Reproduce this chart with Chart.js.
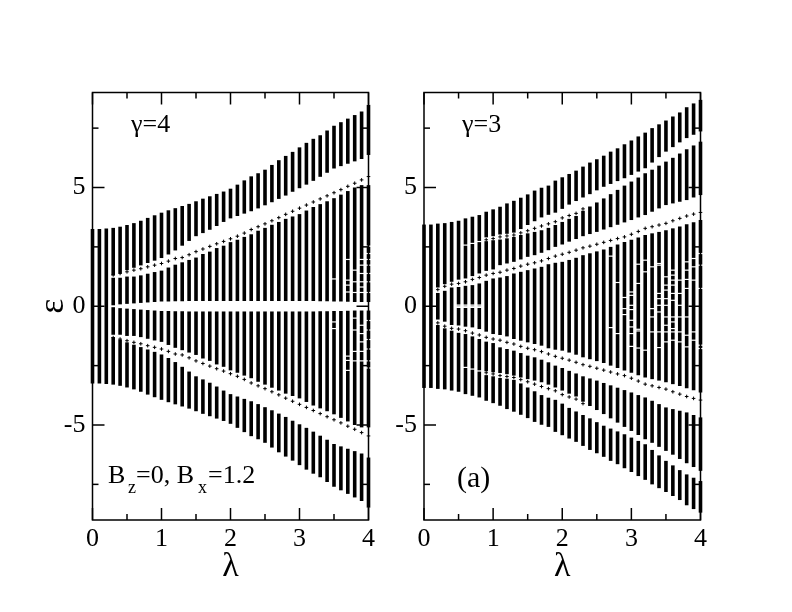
<!DOCTYPE html>
<html><head><meta charset="utf-8">
<style>html,body{margin:0;padding:0;background:#fff;width:792px;height:612px;overflow:hidden}
canvas{position:absolute;left:0;top:0}</style>
<script src="https://cdn.jsdelivr.net/npm/chart.js@4"></script>
</head><body>
<canvas id="c1" width="792" height="612"></canvas>
<canvas id="c2" width="792" height="612"></canvas>
<script>
const lambdas=[0,.1,.2,.3,.4,.5,.6,.7,.8,.9,1,1.1,1.2,1.3,1.4,1.5,1.6,1.7,1.8,1.9,2,2.1,2.2,2.3,2.4,2.5,2.6,2.7,2.8,2.9,3,3.1,3.2,3.3,3.4,3.5,3.6,3.7,3.8,3.9,4];
const _=null;
const xMajor=[0,1,2,3,4], xMinor=[.5,1.5,2.5,3.5], yMajor=[-5,0,5], yMinor=[-7.5,-2.5,2.5,7.5];

// Left panel (gamma = 4)
const A_top_hi=[3.25,3.25,3.27,3.3,3.35,3.42,3.5,3.6,3.72,3.83,3.94,4.04,4.13,4.22,4.31,4.42,4.53,4.63,4.73,4.83,4.95,5.12,5.3,5.47,5.6,5.75,5.95,6.15,6.33,6.5,6.69,6.88,7.05,7.2,7.4,7.6,7.75,7.9,8.05,8.2,8.48];
const A_top_lo=[-3.25,-3.25,-3.27,1.3,1.4,1.52,1.62,1.72,1.82,1.92,2.03,2.18,2.35,2.55,2.75,2.95,3.08,3.22,3.38,3.55,3.7,3.8,3.9,4,4.12,4.25,4.38,4.52,4.66,4.82,4.97,5.12,5.28,5.45,5.62,5.8,5.9,6,6.1,6.2,6.37];
const A_mid_hi=[_,_,_,1.2,1.2,1.25,1.25,1.3,1.37,1.44,1.5,1.63,1.75,1.85,1.95,2.05,2.2,2.3,2.45,2.55,2.7,2.8,2.92,3.03,3.18,3.3,3.43,3.55,3.68,3.78,3.88,4.03,4.18,4.3,4.42,4.55,4.7,4.85,5,5.1,5.1];
const A_mid_lo=[_,_,_,.04,.08,.1,.12,.14,.16,.18,.2,.2,.21,.21,.22,.22,.22,.22,.22,.22,.22,.22,.22,.22,.22,.22,.22,.22,.22,.22,.22,.22,.22,.21,.21,.2,.2,.19,.18,.18,.18];
const A_nmid_hi=[_,_,_,-.04,-.08,-.1,-.12,-.14,-.16,-.18,-.2,-.2,-.21,-.21,-.22,-.22,-.22,-.22,-.22,-.22,-.22,-.22,-.22,-.22,-.22,-.22,-.22,-.22,-.22,-.22,-.22,-.22,-.22,-.21,-.21,-.2,-.2,-.19,-.18,-.18,-.18];
const A_nmid_lo=[_,_,_,-1.2,-1.2,-1.25,-1.25,-1.3,-1.37,-1.44,-1.5,-1.63,-1.75,-1.85,-1.95,-2.05,-2.2,-2.3,-2.45,-2.55,-2.7,-2.8,-2.92,-3.03,-3.18,-3.3,-3.43,-3.55,-3.68,-3.78,-3.88,-4.03,-4.18,-4.3,-4.42,-4.55,-4.7,-4.85,-5,-5.1,-5.1];
const A_bot_hi=[_,_,_,-1.3,-1.4,-1.52,-1.62,-1.72,-1.82,-1.92,-2.03,-2.18,-2.35,-2.55,-2.75,-2.95,-3.08,-3.22,-3.38,-3.55,-3.7,-3.8,-3.9,-4,-4.12,-4.25,-4.38,-4.52,-4.66,-4.82,-4.97,-5.12,-5.28,-5.45,-5.62,-5.8,-5.9,-6,-6.1,-6.2,-6.37];
const A_bot_lo=[_,_,_,-3.3,-3.35,-3.42,-3.5,-3.6,-3.72,-3.83,-3.94,-4.04,-4.13,-4.22,-4.31,-4.42,-4.53,-4.63,-4.73,-4.83,-4.95,-5.12,-5.3,-5.47,-5.6,-5.75,-5.95,-6.15,-6.33,-6.5,-6.69,-6.88,-7.05,-7.2,-7.4,-7.6,-7.75,-7.9,-8.05,-8.2,-8.48];
const A_cross_pos=[_,_,_,1.32,1.38,1.45,1.52,1.58,1.66,1.73,1.8,1.9,2.01,2.05,2.17,2.3,2.41,2.52,2.63,2.73,2.84,2.95,3.08,3.23,3.35,3.47,3.6,3.73,3.87,4,4.13,4.26,4.39,4.52,4.65,4.78,4.91,5.05,5.18,5.32,5.46];
const A_cross_neg=[_,_,_,-1.32,-1.38,-1.45,-1.52,-1.58,-1.66,-1.73,-1.8,-1.9,-2.01,-2.05,-2.17,-2.3,-2.41,-2.52,-2.63,-2.73,-2.84,-2.95,-3.08,-3.23,-3.35,-3.47,-3.6,-3.73,-3.87,-4,-4.13,-4.26,-4.39,-4.52,-4.65,-4.78,-4.91,-5.05,-5.18,-5.32,-5.46];
const A_fleck_x=[3.5,3.5,3.5,3.7,3.7,3.7,3.7,3.7,3.7,3.7,3.8,3.8,3.8,3.8,3.8,3.8,3.8,3.9,3.9,3.9,3.9,3.9,3.9,3.9,3.9,3.9,3.9,3.9,4,4,4,4,4,4,4,4,4,4,4,4,4];
const A_fleck_y=[1.15,-.66,-.94,1.97,1.1,.89,.6,-2.1,-2.28,-2.7,1.52,1.03,.58,-.5,-1,-1.9,-2.3,1.97,1.73,1.38,1.03,.81,.58,-.8,-1.15,-1.5,-1.9,-2.3,2.53,2.22,1.97,1.73,1.38,1.03,.58,-.6,-1,-1.4,-1.8,-2.3,-2.6];

// Right panel (gamma = 3)
const B_top_hi=[3.44,3.44,3.48,3.5,3.55,3.6,3.7,3.77,3.84,3.98,4.08,4.19,4.33,4.44,4.57,4.71,4.87,4.99,5.08,5.29,5.43,5.57,5.71,5.88,6.05,6.19,6.34,6.51,6.65,6.82,6.98,7.15,7.31,7.5,7.66,7.82,7.99,8.16,8.38,8.54,8.69];
const B_top_lo=[-3.44,-3.44,.79,.93,1.03,1.12,2.6,2.67,2.75,2.9,2.95,3.02,3.05,3.1,3.25,3.42,3.58,3.74,3.85,3.94,4.1,4.28,4.43,4.58,4.72,4.88,5.03,5.15,5.27,5.39,5.53,5.67,5.81,6.05,6.28,6.51,6.7,6.9,7.08,7.22,7.36];
const B_sec_hi=[_,_,_,_,_,_,2.55,2.62,2.7,2.74,2.78,2.81,2.86,2.92,3,3.07,3.13,3.2,3.3,3.42,3.55,3.68,3.8,4.02,4.2,4.37,4.54,4.72,4.9,5.08,5.25,5.42,5.6,5.75,5.92,6.09,6.25,6.43,6.61,6.77,6.93];
const B_sec_lo=[_,_,_,_,_,_,1.17,1.27,1.38,1.49,1.55,1.73,1.8,1.87,1.97,2.08,2.15,2.25,2.36,2.5,2.6,2.72,2.83,2.95,3.04,3.13,3.23,3.33,3.43,3.53,3.63,3.74,3.84,3.98,4.12,4.26,4.33,4.4,4.47,4.58,4.68];
const B_mid_hi=[_,_,.56,.65,.79,.81,.86,.89,.96,1.07,1.17,1.21,1.27,1.38,1.45,1.52,1.59,1.66,1.77,1.83,1.87,1.95,2.04,2.15,2.23,2.31,2.39,2.5,2.6,2.71,2.8,2.9,3,3.07,3.13,3.2,3.28,3.36,3.45,3.54,3.63];
const B_mid_lo=[_,_,-.56,-.65,-.79,-.81,-.86,-.89,-.96,-1.07,-1.17,-1.21,-1.27,-1.38,-1.45,-1.52,-1.59,-1.66,-1.77,-1.83,-1.87,-1.95,-2.04,-2.15,-2.23,-2.31,-2.39,-2.5,-2.6,-2.71,-2.8,-2.9,-3,-3.07,-3.13,-3.2,-3.28,-3.36,-3.45,-3.54,-3.63];
const B_nsec_hi=[_,_,_,_,_,_,-1.17,-1.27,-1.38,-1.49,-1.55,-1.73,-1.8,-1.87,-1.97,-2.08,-2.15,-2.25,-2.36,-2.5,-2.6,-2.72,-2.83,-2.95,-3.04,-3.13,-3.23,-3.33,-3.43,-3.53,-3.63,-3.74,-3.84,-3.98,-4.12,-4.26,-4.33,-4.4,-4.47,-4.58,-4.68];
const B_nsec_lo=[_,_,_,_,_,_,-2.55,-2.62,-2.7,-2.74,-2.78,-2.81,-2.86,-2.92,-3,-3.07,-3.13,-3.2,-3.3,-3.42,-3.55,-3.68,-3.8,-4.02,-4.2,-4.37,-4.54,-4.72,-4.9,-5.08,-5.25,-5.42,-5.6,-5.75,-5.92,-6.09,-6.25,-6.43,-6.61,-6.77,-6.93];
const B_bot_hi=[_,_,-.79,-.93,-1.03,-1.12,-2.6,-2.67,-2.75,-2.9,-2.95,-3.02,-3.05,-3.1,-3.25,-3.42,-3.58,-3.74,-3.85,-3.94,-4.1,-4.28,-4.43,-4.58,-4.72,-4.88,-5.03,-5.15,-5.27,-5.39,-5.53,-5.67,-5.81,-6.05,-6.28,-6.51,-6.7,-6.9,-7.08,-7.22,-7.36];
const B_bot_lo=[_,_,-3.48,-3.5,-3.55,-3.6,-3.7,-3.77,-3.84,-3.98,-4.08,-4.19,-4.33,-4.44,-4.57,-4.71,-4.87,-4.99,-5.08,-5.29,-5.43,-5.57,-5.71,-5.88,-6.05,-6.19,-6.34,-6.51,-6.65,-6.82,-6.98,-7.15,-7.31,-7.5,-7.66,-7.82,-7.99,-8.16,-8.38,-8.54,-8.69];
const B_crossA_pos=[_,_,_,_,_,_,_,_,_,2.8,2.85,2.92,2.96,3,3.09,3.18,3.28,3.38,3.47,3.56,3.72,3.82,3.91,4.1,_,_,_,_,_,_,_,_,_,_,_,_,_,_,_,_,_];
const B_crossA_neg=[_,_,_,_,_,_,_,_,_,-2.8,-2.85,-2.92,-2.96,-3,-3.09,-3.18,-3.28,-3.38,-3.47,-3.56,-3.72,-3.82,-3.91,-4.1,_,_,_,_,_,_,_,_,_,_,_,_,_,_,_,_,_];
const B_crossB_pos=[_,_,.7,.84,.93,.96,1.03,1.13,1.21,1.31,1.38,1.43,1.52,1.59,1.69,1.77,1.83,1.91,2.01,2.11,2.19,2.27,2.36,2.46,2.53,2.61,2.69,2.77,2.85,2.92,3.03,3.15,3.28,3.35,3.42,3.49,3.6,3.7,3.8,3.88,3.95];
const B_crossB_neg=[_,_,-.7,-.84,-.93,-.96,-1.03,-1.13,-1.21,-1.31,-1.38,-1.43,-1.52,-1.59,-1.69,-1.77,-1.83,-1.91,-2.01,-2.11,-2.19,-2.27,-2.36,-2.46,-2.53,-2.61,-2.69,-2.77,-2.85,-2.92,-3.03,-3.15,-3.28,-3.35,-3.42,-3.49,-3.6,-3.7,-3.8,-3.88,-3.95];
const B_fleck_x=[.5,.5,.5,.6,.6,.6,.7,.7,.7,.8,.8,.8,2.7,2.7,2.8,2.8,2.9,2.9,2.9,3,3,3,3,3,3,3,3,3.1,3.1,3.1,3.1,3.1,3.2,3.2,3.2,3.3,3.3,3.3,3.3,3.4,3.4,3.4,3.4,3.4,3.4,3.4,3.4,3.5,3.5,3.5,3.5,3.5,3.5,3.5,3.5,3.5,3.6,3.6,3.6,3.6,3.6,3.6,3.6,3.6,3.6,3.6,3.6,3.7,3.7,3.7,3.7,3.7,3.7,3.8,3.8,3.8,3.8,3.8,3.8,3.8,3.9,3.9,3.9,3.9,3.9,4,4,4,4,4];
const B_fleck_y=[.05,0,-.05,.05,0,-.05,.05,0,-.05,.05,0,-.05,2.11,-.9,1,-1.15,.37,-.1,-.35,.6,.46,.04,-.14,-.59,-.87,-1.15,-1.69,1.77,.96,-.97,-1.04,-1.76,1.94,1.45,-1.85,1.66,-.1,-.45,-1.08,1.8,1.73,.54,.32,.04,-.24,-1.08,-1.74,1.24,.89,.68,.32,.04,-.45,-.8,-1.08,-1.5,1.52,1.31,1.1,.89,.54,.25,-.45,-.66,-.94,-1.08,-1.43,1.1,.54,.04,-.45,-1.08,-1.5,1.87,1.52,1.13,.75,-.45,-1.22,-1.71,2.01,1.66,1.1,-1.08,-1.43,2.22,1.73,.75,-1.64,-1.78];
const fleckHalf=.025;

const bandData=(lo,hi)=>lambdas.map((x,i)=>hi[i]===null?null:{x,y:[lo[i],hi[i]]}).filter(Boolean);
const crossData=ys=>lambdas.map((x,i)=>ys[i]===null?null:{x,y:ys[i]}).filter(Boolean);
const fleckData=(xs,ys)=>xs.map((x,i)=>({x,y:[ys[i]-fleckHalf,ys[i]+fleckHalf]}));
const band=(lo,hi)=>({type:'bar',data:bandData(lo,hi),backgroundColor:'#000',borderWidth:0,maxBarThickness:3.6,grouped:false,clip:false});
const fleck=(xs,ys)=>({type:'bar',data:fleckData(xs,ys),backgroundColor:'#fff',borderWidth:0,maxBarThickness:5,grouped:false,clip:false});
const cross=ys=>({type:'scatter',data:crossData(ys),pointStyle:'cross',pointRadius:1.8,pointBorderColor:'#000',pointBorderWidth:1,showLine:false,clip:false});

const FONT='"Liberation Serif", serif';
const frame={
  id:'frame',
  afterDatasetsDraw(chart,args,opts){
    const {ctx,chartArea:a,scales:{x,y}}=chart;
    ctx.save();ctx.strokeStyle='#000';ctx.lineWidth=1.5;ctx.lineCap='butt';
    const seg=(x0,y0,x1,y1)=>{ctx.beginPath();ctx.moveTo(x0,y0);ctx.lineTo(x1,y1);ctx.stroke();};
    const xt=(v,l)=>{const p=x.getPixelForValue(v);seg(p,a.bottom,p,a.bottom-l);seg(p,a.top,p,a.top+l);};
    const yt=(v,l)=>{const p=y.getPixelForValue(v);seg(a.left,p,a.left+l,p);seg(a.right,p,a.right-l,p);};
    xMajor.forEach(v=>xt(v,12));xMinor.forEach(v=>xt(v,6));
    yMajor.forEach(v=>yt(v,12));yMinor.forEach(v=>yt(v,6));
    ctx.strokeRect(a.left,a.top,a.right-a.left,a.bottom-a.top);
    ctx.fillStyle='#000';ctx.textBaseline='alphabetic';ctx.textAlign='left';
    (opts.texts||[]).forEach(t=>{ctx.font=t.size+'px '+FONT;ctx.fillText(t.s,t.x,t.y);});
    ctx.restore();
  }
};
function makeChart(id,datasets,cfg){
  return new Chart(document.getElementById(id),{
    data:{datasets},
    plugins:[frame],
    options:{
      responsive:false,animation:false,
      layout:{padding:{left:cfg.padLeft,right:cfg.padRight,top:92.5,bottom:23}},
      plugins:{legend:{display:false},tooltip:{enabled:false},frame:{texts:cfg.texts}},
      scales:{
        x:{type:'linear',min:0,max:4,offset:false,grid:{display:false,drawTicks:false},border:{display:false},
          afterBuildTicks:s=>{s.ticks=xMajor.map(value=>({value}));},
          afterFit:s=>{s.height=612-23-520;},
          ticks:{color:'#000',font:{family:FONT,size:26},padding:4,autoSkip:false,maxRotation:0},
          title:{display:true,text:'λ',color:'#000',font:{family:FONT,size:34},padding:{top:0,bottom:2}}},
        y:{type:'linear',min:-9,max:9,grid:{display:false,drawTicks:false},border:{display:false},
          afterBuildTicks:s=>{s.ticks=yMajor.map(value=>({value}));},
          afterFit:s=>{s.width=cfg.yWidth;},
          ticks:{color:'#000',font:{family:FONT,size:26},padding:7},
          title:{display:cfg.yTitle,text:'ε',color:'#000',font:{family:FONT,size:36},padding:{top:0,bottom:0}}}
      }
    }
  });
}
makeChart('c1',[
  fleck(A_fleck_x,A_fleck_y),
  cross(A_cross_pos),cross(A_cross_neg),
  band(A_top_lo,A_top_hi),band(A_mid_lo,A_mid_hi),band(A_nmid_lo,A_nmid_hi),band(A_bot_lo,A_bot_hi)
],{padLeft:32,padRight:423.5,yWidth:60.5,yTitle:true,texts:[
  {s:'γ=4',x:131,y:132,size:26},
  {s:'B',x:108,y:483,size:26},{s:'z',x:128,y:493,size:18},{s:'=0, B',x:136,y:483,size:26},
  {s:'x',x:198,y:493,size:18},{s:'=1.2',x:208,y:483,size:26}]});
makeChart('c2',[
  fleck(B_fleck_x,B_fleck_y),
  cross(B_crossA_pos),cross(B_crossA_neg),cross(B_crossB_pos),cross(B_crossB_neg),
  band(B_top_lo,B_top_hi),band(B_sec_lo,B_sec_hi),band(B_mid_lo,B_mid_hi),band(B_nsec_lo,B_nsec_hi),band(B_bot_lo,B_bot_hi)
],{padLeft:0,padRight:91.5,yWidth:424,yTitle:false,texts:[
  {s:'γ=3',x:462,y:132,size:26},{s:'(a)',x:457,y:487,size:30}]});
</script>
</body></html>
